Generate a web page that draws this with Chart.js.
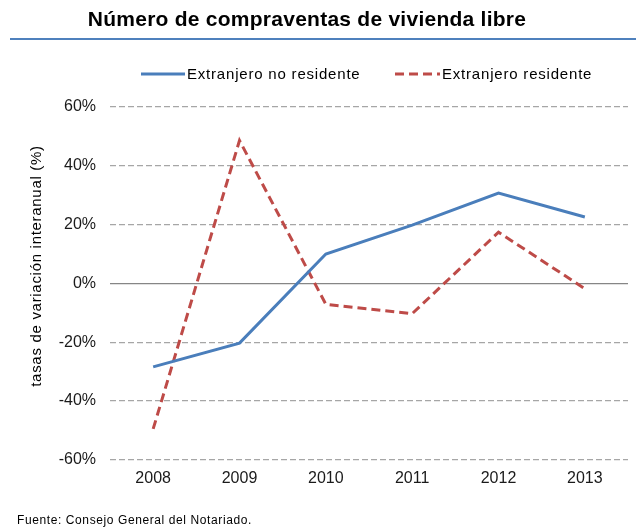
<!DOCTYPE html>
<html>
<head>
<meta charset="utf-8">
<script src="https://cdn.jsdelivr.net/npm/chart.js@4/dist/chart.umd.min.js"></script>
<style>
  html, body { margin: 0; padding: 0; background: #fff; }
  #wrap { position: relative; width: 636px; height: 530px; }
</style>
</head>
<body>
<div id="wrap"><canvas id="c" width="636" height="530"></canvas></div>
<script>
const years = ['2008', '2009', '2010', '2011', '2012', '2013'];
const noResidente = [-28.4, -20.3, 10.0, 19.8, 30.7, 22.6];
const residente = [-49.5, 48.6, -7.1, -10.3, 17.4, -1.8];
const yTicks = [-60, -40, -20, 0, 20, 40, 60];
const chartTitle = 'Número de compraventas de vivienda libre';
const yTitle = 'tasas de variación interanual (%)';
const sourceText = 'Fuente: Consejo General del Notariado.';
const seriesNames = ['Extranjero no residente', 'Extranjero residente'];

const BLUE = '#4A7EBB';
const RED = '#BE4B48';
const FONT = '"Liberation Sans", Arial, sans-serif';

const decor = {
  id: 'decor',
  afterDraw(chart) {
    const ctx = chart.ctx;
    ctx.save();
    // Title
    ctx.fillStyle = '#000';
    ctx.font = 'bold 21px ' + FONT;
    ctx.letterSpacing = '0.25px';
    ctx.textAlign = 'center';
    ctx.textBaseline = 'middle';
    ctx.fillText(chartTitle, 307, 20);
    // rule under title
    ctx.strokeStyle = '#4F81BD';
    ctx.lineWidth = 2;
    ctx.beginPath();
    ctx.moveTo(10, 39);
    ctx.lineTo(636, 39);
    ctx.stroke();
    // Legend
    ctx.font = '15px ' + FONT;
    ctx.letterSpacing = '0.8px';
    ctx.textAlign = 'left';
    ctx.fillStyle = '#000';
    ctx.lineWidth = 3;
    ctx.strokeStyle = BLUE;
    ctx.setLineDash([]);
    ctx.beginPath(); ctx.moveTo(141, 74); ctx.lineTo(185, 74); ctx.stroke();
    ctx.fillText(seriesNames[0], 187, 75);
    ctx.strokeStyle = RED;
    ctx.setLineDash([9, 5]);
    ctx.beginPath(); ctx.moveTo(395, 74); ctx.lineTo(440, 74); ctx.stroke();
    ctx.setLineDash([]);
    ctx.fillText(seriesNames[1], 442, 75);
    // Y axis title
    ctx.save();
    ctx.translate(37, 266);
    ctx.rotate(-Math.PI / 2);
    ctx.textAlign = 'center';
    ctx.font = '15px ' + FONT;
    ctx.letterSpacing = '0.7px';
    ctx.fillText(yTitle, 0, 0);
    ctx.restore();
    // Source
    ctx.font = '12px ' + FONT;
    ctx.letterSpacing = '0.6px';
    ctx.textAlign = 'left';
    ctx.fillText(sourceText, 17, 521);
    ctx.restore();
  }
};

new Chart(document.getElementById('c'), {
  type: 'line',
  data: {
    labels: years,
    datasets: [
      { label: seriesNames[0], data: noResidente, borderColor: BLUE, backgroundColor: BLUE,
        borderWidth: 3, pointRadius: 0, tension: 0, fill: false },
      { label: seriesNames[1], data: residente, borderColor: RED, backgroundColor: RED,
        borderWidth: 3, borderDash: [9, 5], pointRadius: 0, tension: 0, fill: false }
    ]
  },
  options: {
    responsive: false,
    animation: false,
    devicePixelRatio: 1,
    layout: { padding: { top: 107, right: 8, bottom: 33, left: 0 } },
    plugins: { legend: { display: false }, title: { display: false }, tooltip: { enabled: false } },
    scales: {
      x: {
        offset: true,
        grid: { display: false, drawTicks: false },
        border: { display: false },
        ticks: { color: '#1a1a1a', font: { family: FONT, size: 16 }, padding: 9 }
      },
      y: {
        min: -60, max: 60,
        afterBuildTicks(s) { s.ticks = yTicks.map(v => ({ value: v })); },
        afterFit(s) { s.width = 110; },
        grid: {
          drawTicks: false,
          color: ctx => ctx.tick && ctx.tick.value === 0 ? '#868686' : '#A6A6A6',
          lineWidth: 1.2
        },
        border: { display: false, dash: ctx => ctx.tick && ctx.tick.value === 0 ? [] : [6, 3] },
        ticks: { color: '#1a1a1a', font: { family: FONT, size: 16 }, padding: 14,
          callback: v => v + '%' },
        title: { display: false }
      }
    }
  },
  plugins: [decor]
});
</script>
</body>
</html>
